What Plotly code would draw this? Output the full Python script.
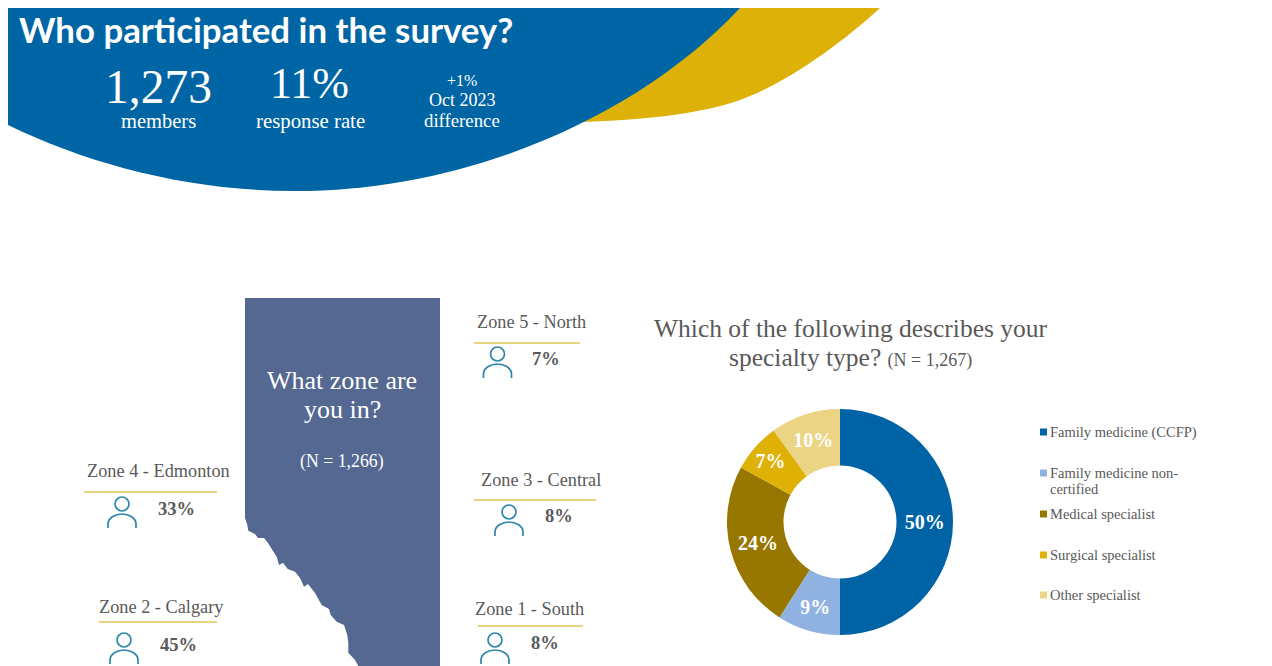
import plotly.graph_objects as go

# Specialty donut
specialties = ["Family medicine (CCFP)", "Family medicine non-<br>certified", "Medical specialist",
               "Surgical specialist", "Other specialist"]
specialty_share = [50, 9, 24, 7, 10]
specialty_colors = ["#0063A5", "#8FB2E0", "#977700", "#DFB106", "#EBD585"]
legend_y = [432, 473, 514, 555, 595]

# Zone call-outs
zones = ["Zone 5 - North", "Zone 4 - Edmonton", "Zone 3 - Central", "Zone 2 - Calgary", "Zone 1 - South"]
zone_share = ["7%", "33%", "8%", "45%", "8%"]
zone_label_x = [531, 158, 541, 161, 529]
zone_label_y = [322, 471, 480, 607, 609]
zone_rule = [(474, 580, 343), (84, 217, 492), (474, 596, 500), (99, 217, 622), (478, 583, 626)]
zone_icon = [(497.5, 354), (122, 504), (509, 512), (124, 640), (495, 640)]
zone_pct_x = [546, 176, 559, 178, 545]
zone_pct_y = [359, 509, 516, 645, 643]

# South-west edge of the province outline
border_x = [245, 245.7, 247.3, 248.3, 255, 258, 264, 268, 273, 276.7, 279, 283, 287.7, 295, 300,
            304, 308, 315, 321.7, 329, 330.7, 336.7, 344, 347.3, 348.3, 348.3, 355, 358.3]
border_y = [518, 520, 525, 530.7, 534, 538, 538, 543, 551, 556.7, 565, 562.7, 569, 571.7, 578,
            586.7, 584, 593, 605, 609, 615, 621.7, 625, 635, 643, 652.7, 660, 666]

SERIF = "Liberation Serif"
GREY = "#595959"
ICON = "#2E86AB"
W, H = 1272, 666


def label(x, y, text, size, color=GREY, family=SERIF, anchor="center"):
    return dict(x=x, y=y, text=text, showarrow=False, xanchor=anchor, yanchor="middle",
                align="center" if anchor == "center" else "left",
                font=dict(family=family, size=size, color=color))


shapes = [
    # Gold crescent behind the banner
    dict(type="path",
         path="M 700,8 L 880,8 C 840,45 783,85 740,100 C 697,115 640,120 583,122 L 560,122 Z",
         fillcolor="#DDB108", line_width=0),
    # Blue banner
    dict(type="path", path="M 8,8 L 740,8 C 640,115 470,191 295,191 C 190,191 90,165 8,125 Z",
         fillcolor="#0065A4", line_width=0),
    # Province outline
    dict(type="path",
         path="M 245,298 L 440,298 L 440,666 "
              + " ".join(f"L {x},{y}" for x, y in zip(reversed(border_x), reversed(border_y))) + " Z",
         fillcolor="#546891", line_width=0),
]

for x0, x1, y in zone_rule:
    shapes.append(dict(type="line", x0=x0, x1=x1, y0=y, y1=y, line=dict(color="#DFC657", width=1.5)))

for cx, cy in zone_icon:
    shapes.append(dict(type="circle", x0=cx - 7, x1=cx + 7, y0=cy - 7, y1=cy + 7,
                       line=dict(color=ICON, width=1.7)))
    shapes.append(dict(type="path",
                       path=f"M {cx-14},{cy+24} L {cx-14},{cy+20} C {cx-14},{cy+14} {cx-7},{cy+10} {cx},{cy+10} "
                            f"C {cx+7},{cy+10} {cx+14},{cy+14} {cx+14},{cy+20} L {cx+14},{cy+24}",
                       line=dict(color=ICON, width=1.7)))

for color, y in zip(specialty_colors, legend_y):
    shapes.append(dict(type="rect", x0=1040, x1=1047, y0=y - 3.5, y1=y + 3.5, fillcolor=color, line_width=0))

annotations = [
    label(17, 29, "<b>Who participated in the survey?</b>", 34.8, "white", "Lato", "left"),
    label(158, 87, "1,273", 47.5, "white"),
    label(158, 121, "members", 20.5, "white"),
    label(309, 83, "11%", 44, "white"),
    label(310, 121, "response rate", 20.8, "white"),
    label(462, 80, "+1%", 16, "white"),
    label(462, 100, "Oct 2023", 18, "white"),
    label(462, 120, "difference", 18.8, "white"),
    label(342, 380, "What zone are", 26, "white"),
    label(342, 409, "you in?", 26, "white"),
    label(342, 461, "(N = 1,266)", 17.8, "white"),
    label(851, 328, "Which of the following describes your", 25.5),
    label(850, 357, "specialty type? <span style='font-size:18px'>(N = 1,267)</span>", 25.5),
]

for name, x, y in zip(zones, zone_label_x, zone_label_y):
    annotations.append(label(x, y, name, 18.3))
for pct, x, y in zip(zone_share, zone_pct_x, zone_pct_y):
    annotations.append(label(x, y, f"<b>{pct}</b>", 18.5))
for name, y in zip(specialties, legend_y):
    # Wrapped entries get tighter leading than a plain line break would give
    for i, line in enumerate(name.split("<br>")):
        annotations.append(label(1048, y + i * 16, line, 14.5, anchor="left"))

fig = go.Figure()

# Empty trace so the hidden pixel-sized axes exist for shapes and annotations
fig.add_trace(go.Scatter(x=[0, W], y=[0, H], mode="none", hoverinfo="skip", showlegend=False))

fig.add_trace(go.Pie(
    labels=[s.replace("<br>", "") for s in specialties],
    values=specialty_share,
    marker=dict(colors=specialty_colors, line=dict(width=0)),
    hole=0.5,
    sort=False,
    direction="clockwise",
    rotation=0,
    textinfo="percent",
    textposition="inside",
    insidetextorientation="horizontal",
    insidetextfont=dict(family=SERIF, size=20, color="white", weight="bold"),
    domain=dict(x=[727 / W, 953 / W], y=[1 - 635 / H, 1 - 409 / H]),
    showlegend=False,
))

fig.update_layout(
    width=W, height=H,
    margin=dict(l=0, r=0, t=0, b=0),
    paper_bgcolor="white", plot_bgcolor="white",
    xaxis=dict(range=[0, W], visible=False, domain=[0, 1], fixedrange=True),
    yaxis=dict(range=[H, 0], visible=False, domain=[0, 1], fixedrange=True),
    shapes=shapes,
    annotations=annotations,
)

fig.write_html("out.html", config=dict(displayModeBar=False))
